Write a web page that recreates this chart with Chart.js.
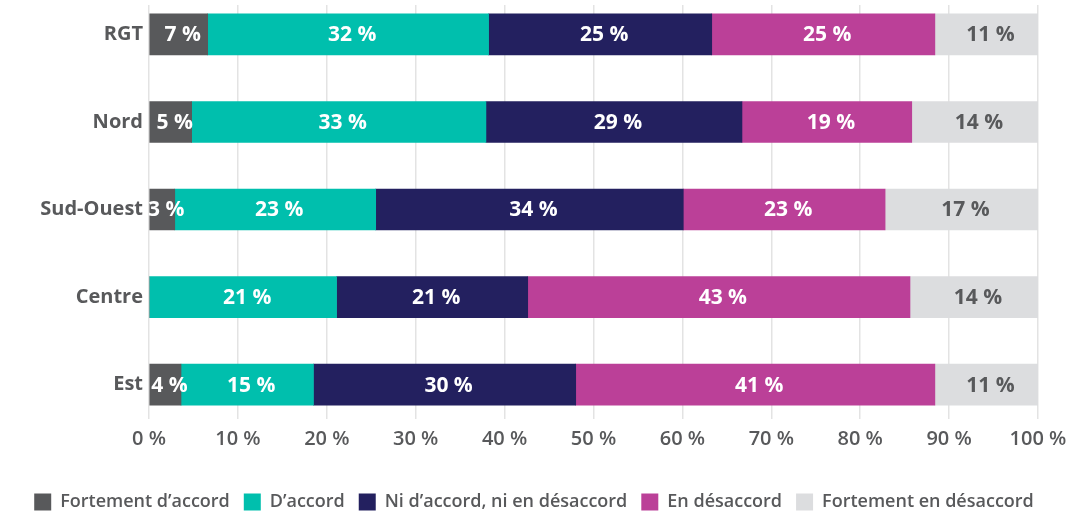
<!DOCTYPE html>
<html>
<head>
<meta charset="utf-8">
<script src="https://cdn.jsdelivr.net/npm/chart.js@4"></script>
<style>
  html, body { margin: 0; padding: 0; background: #ffffff; }
  #wrap { width: 1068px; height: 512px; position: relative; }
</style>
</head>
<body>
<div id="wrap"><canvas id="c" width="1068" height="512"></canvas></div>
<script>
// ---- data ----
const categories = ['RGT', 'Nord', 'Sud-Ouest', 'Centre', 'Est'];
const seriesNames = ['Fortement d’accord', 'D’accord', 'Ni d’accord, ni en désaccord', 'En désaccord', 'Fortement en désaccord'];

// bar lengths (percent)
const fortementAccord    = [6.6, 4.8, 2.9, 0.0, 3.6];
const accord             = [31.6, 33.1, 22.6, 21.1, 14.9];
const niAccordNiDesacc   = [25.1, 28.8, 34.6, 21.5, 29.5];
const desaccord          = [25.1, 19.1, 22.7, 43.0, 40.4];
const fortementDesaccord = [11.6, 14.2, 17.2, 14.4, 11.6];

// printed labels (percent)
const lblFortementAccord    = [7, 5, 3, null, 4];
const lblAccord             = [32, 33, 23, 21, 15];
const lblNiAccordNiDesacc   = [25, 29, 34, 21, 30];
const lblDesaccord          = [25, 19, 23, 43, 41];
const lblFortementDesaccord = [11, 14, 17, 14, 11];

const xTicks = [0, 10, 20, 30, 40, 50, 60, 70, 80, 90, 100];

// ---- styling ----
const colors = ['#58595B', '#00BFAD', '#23205F', '#BB4098', '#DCDDDF'];
const labelColors = ['#ffffff', '#ffffff', '#ffffff', '#ffffff', '#58595B'];
const FONT = '"Open Sans", "Liberation Sans", sans-serif';
const TEXT = '#58595B';

const values = [fortementAccord, accord, niAccordNiDesacc, desaccord, fortementDesaccord];
const printed = [lblFortementAccord, lblAccord, lblNiAccordNiDesacc, lblDesaccord, lblFortementDesaccord];

const datasets = seriesNames.map((name, s) => ({
  label: name,
  data: values[s].map((v, i) => ({ x: v, y: i })),
  printed: printed[s],
  backgroundColor: colors[s],
  labelColor: labelColors[s],
  borderWidth: 0,
  barThickness: 41
}));

const barLabels = {
  id: 'barLabels',
  afterDatasetsDraw(chart) {
    const ctx = chart.ctx;
    ctx.save();
    ctx.font = '700 21px ' + FONT;
    ctx.textAlign = 'center';
    ctx.textBaseline = 'middle';
    chart.data.datasets.forEach((ds, di) => {
      const meta = chart.getDatasetMeta(di);
      meta.data.forEach((el, i) => {
        const lab = ds.printed[i];
        if (lab === null || lab === undefined) return;
        const p = el.getProps(['x', 'base', 'y'], true);
        ctx.fillStyle = ds.labelColor;
        ctx.fillText(lab + ' %', (p.x + p.base) / 2 + 4, p.y + 1);
      });
    });
    ctx.restore();
  }
};

new Chart(document.getElementById('c'), {
  type: 'bar',
  data: { datasets },
  plugins: [barLabels],
  options: {
    indexAxis: 'y',
    responsive: false,
    animation: false,
    layout: { padding: { left: 0, right: 0, top: 5, bottom: -9 } },
    scales: {
      x: {
        type: 'linear',
        stacked: true,
        min: 0,
        max: 100,
        afterBuildTicks: s => { s.ticks = xTicks.map(v => ({ value: v })); },
        afterFit: s => { s.height = 60; s.paddingLeft = 0; s.paddingRight = 30; },
        grid: { color: '#E3E3E3', lineWidth: 1.5, drawTicks: true, tickLength: 0 },
        border: { display: false },
        ticks: {
          padding: 8,
          color: TEXT,
          font: { family: FONT, size: 20, weight: '600' },
          callback: v => v + ' %'
        }
      },
      y: {
        type: 'linear',
        stacked: true,
        reverse: true,
        offset: false,
        min: -0.336,
        max: 4.393,
        afterBuildTicks: s => { s.ticks = categories.map((c, i) => ({ value: i })); },
        afterFit: s => { s.width = 149; s.paddingTop = 0; s.paddingBottom = 0; },
        grid: { display: false, drawTicks: false },
        border: { display: false },
        ticks: {
          padding: 6,
          color: TEXT,
          font: { family: FONT, size: 20, weight: '700' },
          callback: v => categories[v]
        }
      }
    },
    plugins: {
      legend: {
        position: 'bottom',
        labels: {
          color: TEXT,
          boxWidth: 17,
          boxHeight: 17,
          padding: 14,
          font: { family: FONT, size: 18, weight: '600' }
        }
      },
      tooltip: { enabled: false }
    }
  }
});
</script>
</body>
</html>
